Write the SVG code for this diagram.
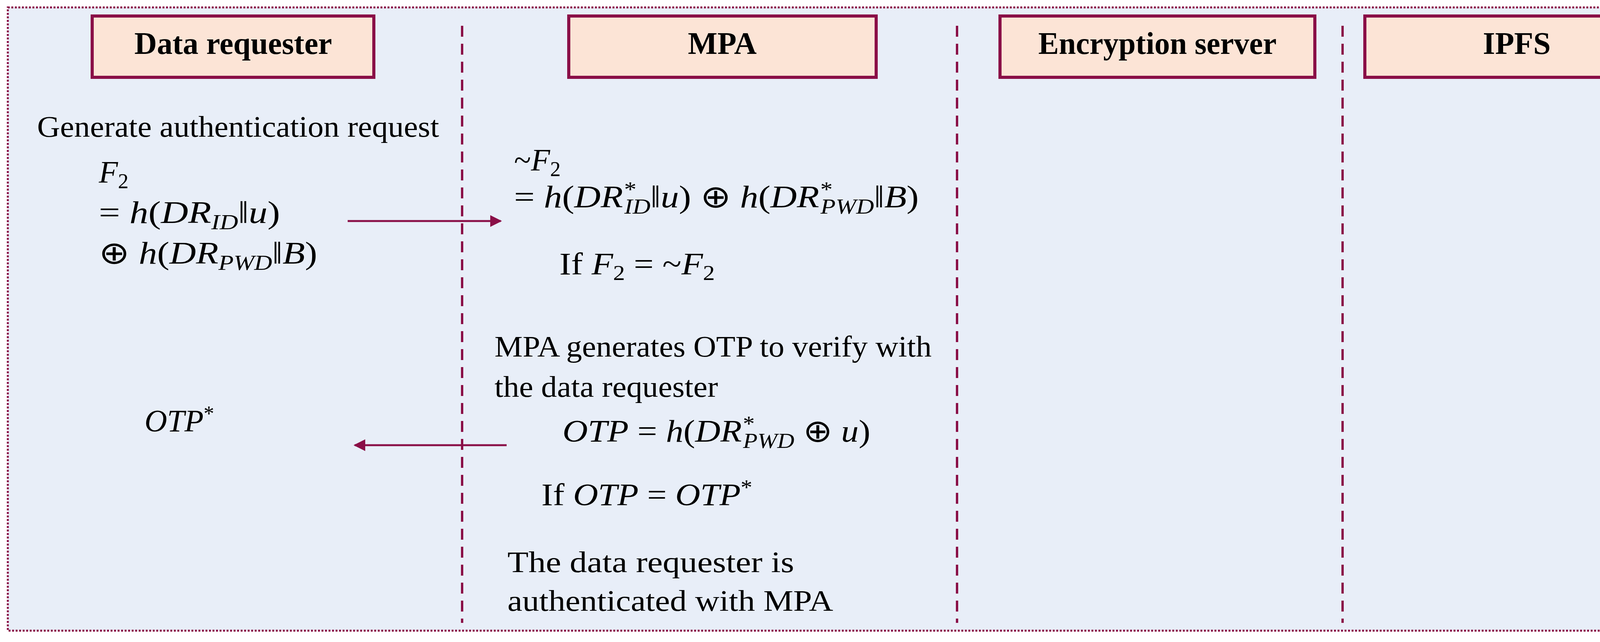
<svg xmlns="http://www.w3.org/2000/svg" width="4301" height="1644" viewBox="0 0 4301 1644">
<defs>
<style>
.hdr{fill:#FCE4D6;stroke:#8A0F47;stroke-width:8}
.ht{font-family:"Liberation Serif",serif;font-weight:bold;font-size:80px;text-anchor:middle;fill:#000}
.t{font-family:"Liberation Serif",serif;font-size:76px;fill:#000}
.m{font-family:"Liberation Serif",serif;font-style:italic;font-size:80px;fill:#000}
.u{font-style:normal}
.life{stroke:#8A0F47;stroke-width:6;stroke-dasharray:28,18;fill:none}
.arr{stroke:#8A0F47;stroke-width:5;fill:none;marker-end:url(#ah)}
</style>
<marker id="ah" viewBox="0 0 10 10" refX="9" refY="5" markerWidth="7" markerHeight="6" orient="auto" markerUnits="strokeWidth">
<path d="M0,0 L10,5 L0,10 z" fill="#8A0F47"/>
</marker>
</defs>
<rect x="0" y="0" width="4301" height="1644" fill="#fff"/>
<rect x="20" y="19" width="4259" height="1596" fill="#E8EEF8" stroke="#8A0F47" stroke-width="5" stroke-dasharray="5,4"/>
<g id="lifelines">
<line class="life" x1="1183" y1="66" x2="1183" y2="1595"/>
<line class="life" x1="2450" y1="66" x2="2450" y2="1595"/>
<line class="life" x1="3437" y1="66" x2="3437" y2="1595"/>
</g>
<g id="n-requester"><rect class="hdr" x="236" y="41" width="721" height="157"/><text class="ht" x="597" y="138" textLength="506" lengthAdjust="spacingAndGlyphs">Data requester</text></g>
<g id="n-mpa"><rect class="hdr" x="1456" y="41" width="787" height="157"/><text class="ht" x="1849" y="138">MPA</text></g>
<g id="n-enc"><rect class="hdr" x="2560" y="41" width="806" height="157"/><text class="ht" x="2963" y="138" textLength="610" lengthAdjust="spacingAndGlyphs">Encryption server</text></g>
<g id="n-ipfs"><rect class="hdr" x="3494" y="41" width="779" height="157"/><text class="ht" x="3883" y="138">IPFS</text></g>
<g id="connectors">
<line class="arr" x1="890" y1="566" x2="1282" y2="566"/>
<line class="arr" x1="1297" y1="1140" x2="908" y2="1140"/>
</g>
<g id="left-text">
<text class="t" x="95" y="350" textLength="1029" lengthAdjust="spacingAndGlyphs">Generate authentication request</text>
<text class="m" x="253" y="468">F<tspan class="u" font-size="54" dy="14">2</tspan></text>
<text class="m" x="253" y="571" textLength="464" lengthAdjust="spacingAndGlyphs"><tspan class="u">= </tspan>h<tspan class="u">(</tspan>DR<tspan font-size="54" dy="16">ID</tspan><tspan class="u" dy="-16">‖</tspan>u<tspan class="u">)</tspan></text>
<text class="m" x="253" y="675" textLength="559" lengthAdjust="spacingAndGlyphs"><tspan class="u">⊕ </tspan>h<tspan class="u">(</tspan>DR<tspan font-size="54" dy="16">PWD</tspan><tspan class="u" dy="-16">‖</tspan>B<tspan class="u">)</tspan></text>
<text class="m" x="370" y="1105">OTP<tspan class="u" font-size="54" dy="-28">*</tspan></text>
</g>
<g id="mpa-text">
<text class="m" x="1316" y="437"><tspan class="u">~</tspan>F<tspan class="u" font-size="54" dy="14">2</tspan></text>
<text class="m" x="1316" y="531" textLength="1036" lengthAdjust="spacingAndGlyphs"><tspan class="u">= </tspan>h<tspan class="u">(</tspan>DR<tspan font-size="54" dy="-28">*</tspan><tspan font-size="54" dx="-24" dy="44">ID</tspan><tspan class="u" dy="-16">‖</tspan>u<tspan class="u">) ⊕ </tspan>h<tspan class="u">(</tspan>DR<tspan font-size="54" dy="-28">*</tspan><tspan font-size="54" dx="-24" dy="44">PWD</tspan><tspan class="u" dy="-16">‖</tspan>B<tspan class="u">)</tspan></text>
<text class="m" x="1432" y="703" textLength="398" lengthAdjust="spacingAndGlyphs"><tspan class="u">If </tspan>F<tspan class="u" font-size="54" dy="14">2</tspan><tspan class="u" dy="-14"> = ~</tspan>F<tspan class="u" font-size="54" dy="14">2</tspan></text>
<text class="t" x="1266" y="913" textLength="1119" lengthAdjust="spacingAndGlyphs">MPA generates OTP to verify with</text>
<text class="t" x="1266" y="1016" textLength="572" lengthAdjust="spacingAndGlyphs">the data requester</text>
<text class="m" x="1440" y="1131" textLength="788" lengthAdjust="spacingAndGlyphs">OTP<tspan class="u"> = </tspan>h<tspan class="u">(</tspan>DR<tspan font-size="54" dy="-28">*</tspan><tspan font-size="54" dx="-24" dy="44">PWD</tspan><tspan class="u" dy="-16"> ⊕ </tspan>u<tspan class="u">)</tspan></text>
<text class="m" x="1386" y="1294" textLength="540" lengthAdjust="spacingAndGlyphs"><tspan class="u">If </tspan>OTP<tspan class="u"> = </tspan>OTP<tspan class="u" font-size="54" dy="-28">*</tspan></text>
<text class="t" x="1299" y="1465" textLength="734" lengthAdjust="spacingAndGlyphs">The data requester is</text>
<text class="t" x="1299" y="1564" textLength="834" lengthAdjust="spacingAndGlyphs">authenticated with MPA</text>
</g>
</svg>
